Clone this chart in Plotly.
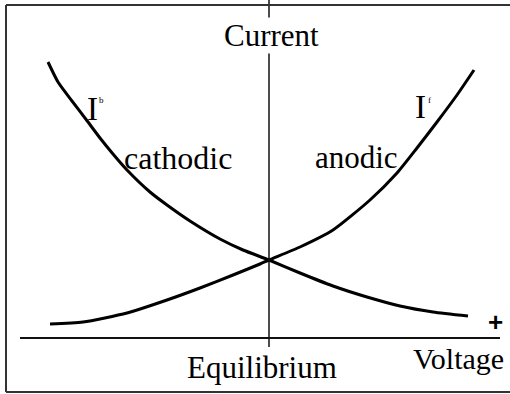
import plotly.graph_objects as go

# schematic current-voltage curves, arbitrary units (equilibrium at voltage 0)
voltage_b = [-2.21, -2.11, -1.97, -1.81, -1.69, -1.56, -1.42, -1.19, -1.02, -0.79,
             -0.49, -0.26, 0.0, 0.31, 0.64, 0.98, 1.31, 1.64, 1.99]
current_b = [2.76, 2.56, 2.37, 2.16, 2.00, 1.84, 1.68, 1.46, 1.33, 1.17,
             0.99, 0.88, 0.78, 0.65, 0.52, 0.41, 0.32, 0.26, 0.22]

voltage_f = [-2.19, -1.86, -1.42, -1.02, -0.69, -0.36, -0.09, 0.0, 0.31, 0.64,
             1.01, 1.28, 1.48, 1.68, 1.88, 2.05]
current_f = [0.14, 0.16, 0.25, 0.38, 0.50, 0.63, 0.74, 0.78, 0.91, 1.08,
             1.38, 1.65, 1.90, 2.16, 2.43, 2.68]

SERIF = "Liberation Serif, Times New Roman, serif"
W, H = 520, 394  # a bit wider than the window: the right side is open

fig = go.Figure()
for vx, cy in ((voltage_b, current_b), (voltage_f, current_f)):
    fig.add_trace(
        go.Scatter(
            x=vx,
            y=cy,
            mode="lines",
            line={"color": "black", "width": 3, "shape": "spline", "smoothing": 0.6},
            hoverinfo="skip",
        )
    )

# axes drawn as plain lines
fig.add_shape(type="line", x0=-2.49, x1=2.31, y0=0, y1=0,
              line={"color": "#111", "width": 2})
fig.add_shape(type="line", x0=0, x1=0, y0=-0.09, y1=3.4,
              line={"color": "#111", "width": 1.5})

# frame around the picture (left, top, bottom)
frame = {"color": "#333", "width": 2}
fig.add_shape(type="line", xref="paper", yref="paper", x0=6 / W, x1=6 / W,
              y0=1 - 5 / H, y1=1 - 392 / H, line=frame)
fig.add_shape(type="line", xref="paper", yref="paper", x0=6 / W, x1=1.0,
              y0=1 - 5 / H, y1=1 - 5 / H, line=frame)
fig.add_shape(type="line", xref="paper", yref="paper", x0=6 / W, x1=1.0,
              y0=1 - 392 / H, y1=1 - 392 / H, line=frame)


def label(text, x, y, size=31, family=SERIF, bg=None):
    fig.add_annotation(
        x=x, y=y, text=text, showarrow=False,
        xanchor="center", yanchor="middle",
        font={"family": family, "size": size, "color": "black"},
        bgcolor=bg,
        borderpad=0,
    )


label("Current", 0.025, 3.03, bg="white")
label("Equilibrium", -0.075, -0.29)
label("Voltage", 1.89, -0.20, size=30)
label("cathodic", -0.915, 1.80, size=32)
label("anodic", 0.87, 1.81)
label("I", -1.765, 2.29, size=33)
label("b", -1.68, 2.38, size=9)
label("I", 1.51, 2.31, size=33)
label("f", 1.60, 2.38, size=9)
label("<b>+</b>", 2.26, 0.16, size=26, family="Liberation Sans, Arial, sans-serif")

fig.update_layout(
    width=W,
    height=H,
    margin={"l": 0, "r": 0, "t": 0, "b": 0},
    paper_bgcolor="white",
    plot_bgcolor="white",
    showlegend=False,
    xaxis={"range": [-2.69, -2.69 + W / 100], "visible": False, "fixedrange": True},
    yaxis={"range": [-0.56, 3.38], "visible": False, "fixedrange": True},
)

# drop the default page margin so the figure sits at the window's corner
fig.write_html(
    "out.html",
    config={"displayModeBar": False},
    post_script="document.body.style.margin='0';document.body.style.overflow='hidden';",
)
